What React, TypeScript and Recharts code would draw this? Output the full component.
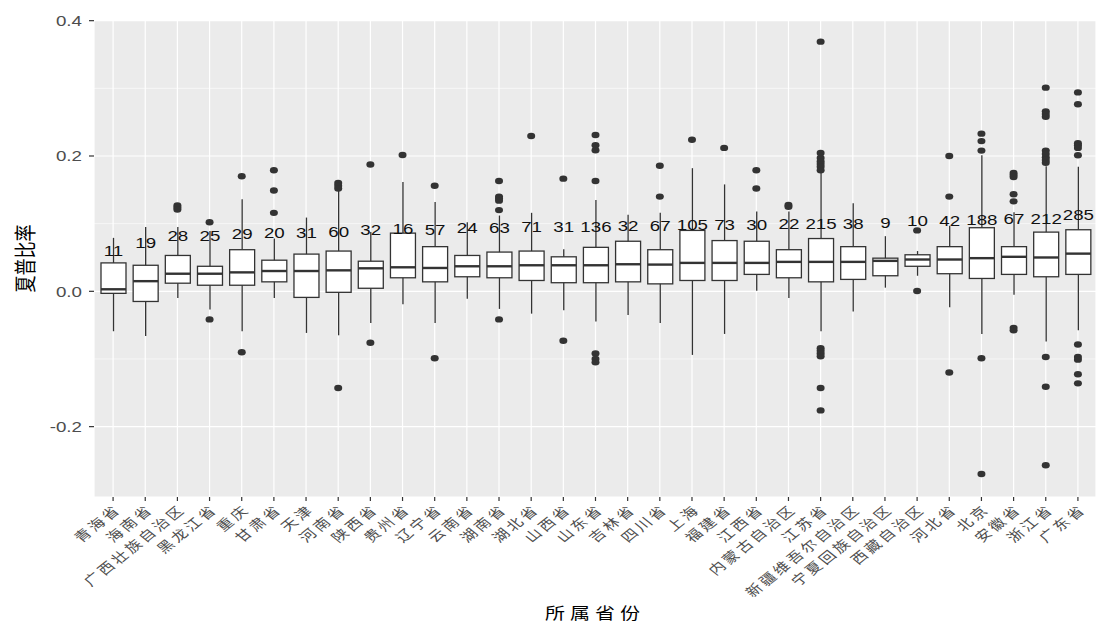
import { ComposedChart, Bar, Scatter, XAxis, YAxis, CartesianGrid, ReferenceLine } from 'recharts'

const provinces = [
  '青海省', '海南省', '广西壮族自治区', '黑龙江省', '重庆', '甘肃省', '天津', '河南省', '陕西省', '贵州省',
  '辽宁省', '云南省', '湖南省', '湖北省', '山西省', '山东省', '吉林省', '四川省', '上海', '福建省',
  '江西省', '内蒙古自治区', '江苏省', '新疆维吾尔自治区', '宁夏回族自治区', '西藏自治区', '河北省', '北京', '安徽省', '浙江省',
  '广东省',
]

const counts = [11, 19, 28, 25, 29, 20, 31, 60, 32, 16, 57, 24, 63, 71, 31, 136, 32, 67, 105, 73, 30, 22, 215, 38, 9, 10, 42, 188, 67, 212, 285]

const whiskerHigh = [0.079, 0.095, 0.095, 0.089, 0.136, 0.078, 0.109, 0.149, 0.0875, 0.1615, 0.132, 0.102, 0.112, 0.116, 0.062, 0.135, 0.113, 0.116, 0.182, 0.158, 0.118, 0.118, 0.175, 0.13, 0.0815, 0.0595, 0.097, 0.201, 0.117, 0.185, 0.184]
const q3 = [0.042, 0.0385, 0.053, 0.037, 0.0615, 0.046, 0.055, 0.0595, 0.0445, 0.086, 0.066, 0.053, 0.058, 0.0595, 0.051, 0.065, 0.074, 0.0615, 0.09, 0.075, 0.074, 0.0615, 0.078, 0.066, 0.049, 0.054, 0.066, 0.094, 0.066, 0.0875, 0.091]
const median = [0.003, 0.015, 0.026, 0.026, 0.028, 0.03, 0.03, 0.031, 0.034, 0.0355, 0.0345, 0.037, 0.037, 0.0385, 0.0385, 0.0385, 0.04, 0.0395, 0.042, 0.042, 0.042, 0.0435, 0.0435, 0.0435, 0.045, 0.047, 0.047, 0.049, 0.051, 0.05, 0.0557]
const q1 = [-0.003, -0.015, 0.012, 0.009, 0.009, 0.014, -0.009, -0.0015, 0.0045, 0.02, 0.014, 0.0215, 0.02, 0.016, 0.0127, 0.0127, 0.014, 0.011, 0.016, 0.016, 0.025, 0.02, 0.014, 0.0176, 0.023, 0.037, 0.026, 0.019, 0.025, 0.0215, 0.025]
const whiskerLow = [-0.059, -0.066, -0.01, -0.027, -0.059, -0.01, -0.0615, -0.065, -0.047, -0.019, -0.047, -0.011, -0.026, -0.033, -0.028, -0.0445, -0.035, -0.047, -0.094, -0.063, 0.001, -0.01, -0.059, -0.03, 0.0054, 0.023, -0.0235, -0.063, -0.005, -0.074, -0.0576]

const outliers = [
  [],
  [],
  [0.127, 0.124, 0.121],
  [0.102, -0.0415],
  [0.17, -0.09],
  [0.179, 0.149, 0.116],
  [],
  [0.16, 0.156, 0.152, -0.143],
  [0.1875, -0.076],
  [0.2015],
  [0.156, -0.099],
  [],
  [0.163, 0.14, 0.137, 0.134, 0.12, -0.0415],
  [0.2295],
  [0.1665, -0.073],
  [0.231, 0.216, 0.2085, 0.163, -0.092, -0.1, -0.105],
  [],
  [0.1855, 0.14],
  [0.224],
  [0.212],
  [0.179, 0.152],
  [0.1275, 0.125],
  [0.369, 0.2045, 0.197, 0.192, 0.188, 0.184, 0.179, -0.084, -0.088, -0.092, -0.096, -0.143, -0.176],
  [],
  [],
  [0.09, 0.0005],
  [0.2, 0.14, -0.12],
  [0.233, 0.222, 0.208, -0.099, -0.27],
  [0.175, 0.172, 0.169, 0.1435, 0.133, -0.054, -0.0576],
  [0.301, 0.266, 0.262, 0.258, 0.208, 0.203, 0.198, 0.194, 0.19, -0.097, -0.141, -0.257],
  [0.294, 0.2765, 0.219, 0.216, 0.212, 0.201, -0.0787, -0.097, -0.101, -0.1226, -0.136],
]

const yTicks = [-0.2, 0, 0.2, 0.4]
const minorTicks = [-0.1, 0.1, 0.3]

const FONT = '"Liberation Sans", Arial, "Noto Sans CJK SC", sans-serif'
const STRETCH = 1.25 // the reference is drawn a bit wider than tall
const LABEL_LIFT = 0.057 // count labels sit this far above the median

const boxData = provinces.map((name, i) => ({
  name,
  n: counts[i],
  lo: whiskerLow[i],
  q1: q1[i],
  med: median[i],
  q3: q3[i],
  hi: whiskerHigh[i],
}))

const outlierPoints = provinces.flatMap((name, i) => outliers[i].map((v) => ({ name, v })))

function BoxShape(props: any) {
  const { x, y, width, height, payload } = props
  const { lo, hi, q1: b1, med, q3: b3, n } = payload
  // map a value onto the pixel range the bar got from the y scale
  const yOf = (v: number) => y + (height * (hi - v)) / (hi - lo)
  const cx = x + width / 2
  const ty = yOf(med + LABEL_LIFT)
  return (
    <g>
      <line x1={cx} x2={cx} y1={yOf(hi)} y2={yOf(lo)} stroke="#333333" strokeWidth={1.3} />
      <rect x={x} y={yOf(b3)} width={width} height={yOf(b1) - yOf(b3)} fill="#ffffff" stroke="#333333" strokeWidth={1.3} />
      <line x1={x} x2={x + width} y1={yOf(med)} y2={yOf(med)} stroke="#333333" strokeWidth={2.4} />
      <g transform={`translate(${cx},${ty}) scale(${STRETCH},1)`}>
        <text textAnchor="middle" dy="0.36em" fontSize={15} fontFamily={FONT} fill="#111111">
          {n}
        </text>
      </g>
    </g>
  )
}

function OutlierDot(props: any) {
  const { cx, cy } = props
  return <ellipse cx={cx} cy={cy} rx={4} ry={3.2} fill="#333333" />
}

function ValueTick(props: any) {
  const { x, y, payload } = props
  const v = Number(payload.value)
  return (
    <g transform={`translate(${x},${y}) scale(${STRETCH},1)`}>
      <text textAnchor="end" dy="0.36em" fontSize={15} fontFamily={FONT} fill="#4D4D4D">
        {v.toFixed(1)}
      </text>
    </g>
  )
}

function ProvinceTick(props: any) {
  const { x, y, payload } = props
  return (
    <g transform={`translate(${x},${y}) scale(${STRETCH},1) rotate(-45)`}>
      <text textAnchor="end" dy="0.8em" fontSize={13} letterSpacing={2.5} fontFamily={FONT} fill="#4D4D4D">
        {payload.value}
      </text>
    </g>
  )
}

export default function App() {
  return (
    <div style={{ position: 'absolute', left: 0, top: 0, width: 1096, height: 622, background: '#ffffff' }}>
      <ComposedChart width={1096} height={622} data={boxData} margin={{ top: 20, right: 0, bottom: 0, left: 0 }}>
        <CartesianGrid fill="#EBEBEB" stroke="#ffffff" strokeWidth={1.2} />
        {minorTicks.map((t) => (
          <ReferenceLine key={t} y={t} stroke="#ffffff" strokeWidth={0.6} zIndex={-50} />
        ))}
        <XAxis
          dataKey="name"
          type="category"
          allowDuplicatedCategory={false}
          interval={0}
          height={125}
          padding={{ left: 3, right: 2 }}
          axisLine={false}
          tickSize={4}
          tickMargin={2}
          tickLine={{ stroke: '#333333', strokeWidth: 1.2 }}
          tick={<ProvinceTick />}
          label={{
            value: '所属省份',
            content: (p: any) => {
              const vb = p.viewBox
              return (
                <g transform={`translate(${vb.x + vb.width / 2},613) scale(${STRETCH},1)`}>
                  <text textAnchor="middle" dy="0.36em" fontSize={16} letterSpacing={4} fontFamily={FONT} fill="#000000">
                    所属省份
                  </text>
                </g>
              )
            },
          }}
        />
        <YAxis
          type="number"
          domain={[-0.304, 0.401]}
          ticks={yTicks}
          width={94}
          axisLine={false}
          tickSize={5}
          tickMargin={7}
          tickLine={{ stroke: '#333333', strokeWidth: 1.2 }}
          tick={<ValueTick />}
          label={{
            value: '夏普比率',
            content: (p: any) => {
              const vb = p.viewBox
              return (
                <g transform={`translate(25,${vb.y + vb.height / 2}) scale(${STRETCH},1) rotate(-90)`}>
                  <text textAnchor="middle" dy="0.36em" fontSize={17} fontFamily={FONT} fill="#000000">
                    夏普比率
                  </text>
                </g>
              )
            },
          }}
        />
        <Bar dataKey={(d: any) => [d.lo, d.hi]} barSize={25} shape={<BoxShape />} isAnimationActive={false} />
        <Scatter data={outlierPoints} dataKey="v" shape={<OutlierDot />} isAnimationActive={false} />
      </ComposedChart>
    </div>
  )
}
